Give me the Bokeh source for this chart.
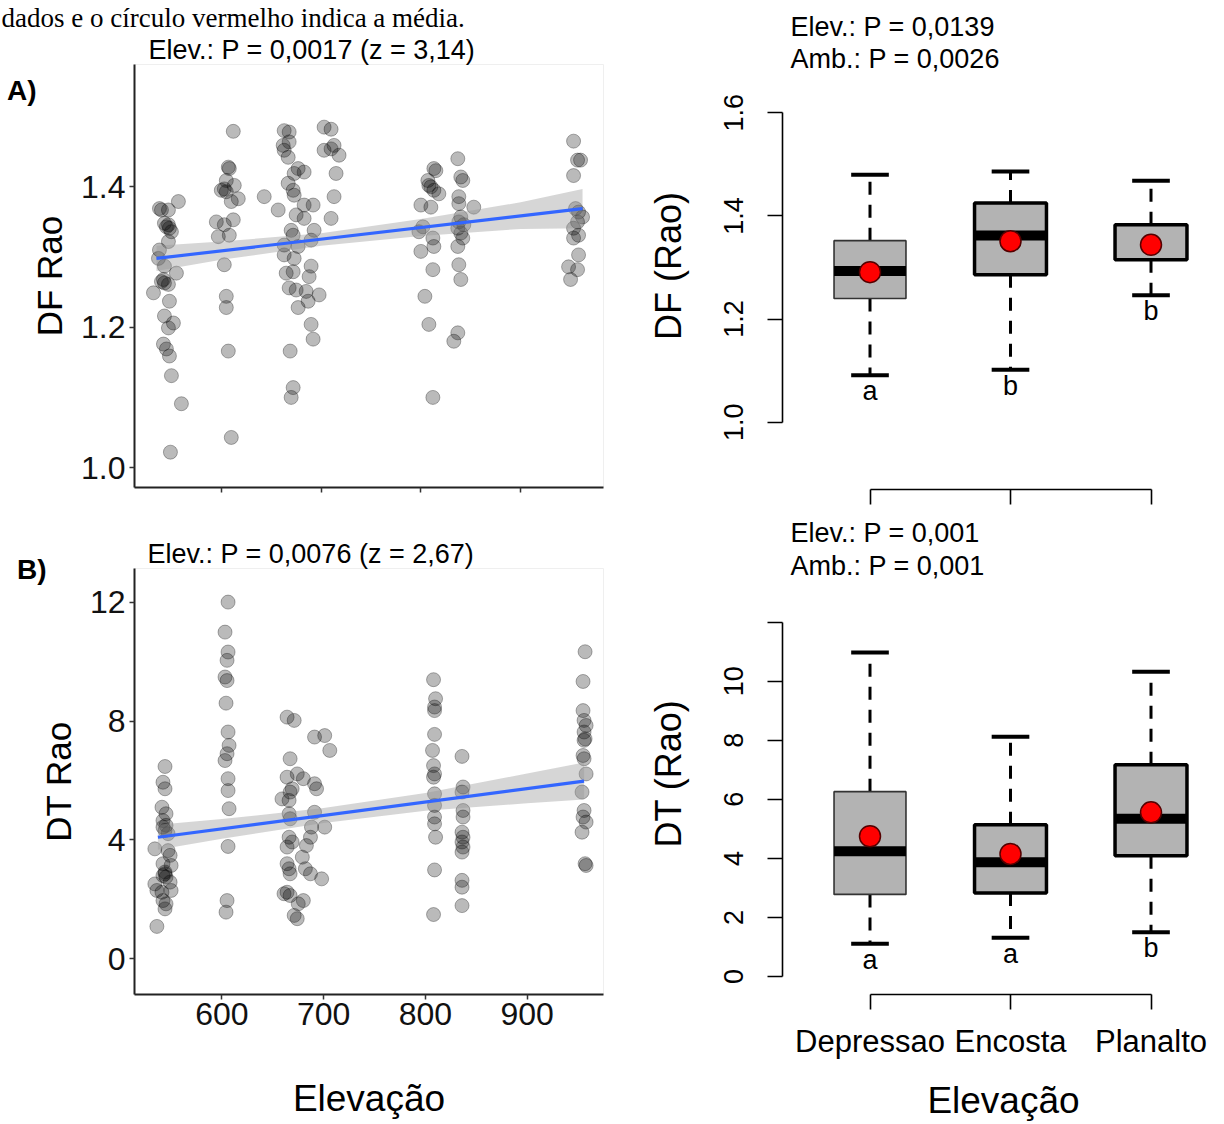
from bokeh.plotting import figure
from bokeh.models import Range1d, FixedTicker, Label, PrintfTickFormatter, Title, LinearAxis
from bokeh.layouts import row, column
from bokeh.embed import file_html
from bokeh.resources import INLINE
from bokeh.core.properties import value

SANS = "Liberation Sans"
NAN = float("nan")

# ---------------- data: panel A (DF Rao vs elevation) ----------------
df_elev = [557, 540, 547, 543, 548, 547, 550, 547, 538, 537, 543, 555, 540, 543, 547, 532, 548, 543, 552, 547,
           542, 545, 548, 550, 560, 549, 545, 542, 538,
           612, 607, 608, 605, 613, 600, 605, 603, 610, 617, 595, 612, 603, 597, 608, 603, 605, 605, 607, 610,
           663, 668, 703, 710, 662, 668, 663, 667, 713, 703, 718, 710, 677, 683, 673, 715, 667, 672, 673, 643,
           657, 683, 692, 713, 710, 675, 683, 670, 672, 693, 690, 663, 677, 663, 673, 690, 688, 665, 672, 668,
           675, 685, 698, 677, 687, 690, 692, 669, 672, 670,
           815, 813, 807, 808, 813, 818, 810, 800, 810, 802, 798, 812, 813, 800, 812, 804, 808, 812,
           837, 840, 842, 838, 838, 853, 840, 838, 843, 837, 840, 842, 837, 838, 840, 837, 833,
           953, 957, 960, 953, 955, 958, 962, 957, 953, 958, 953, 958, 948, 957, 950]
df_rao = [1.379, 1.367, 1.367, 1.348, 1.341, 1.346, 1.336, 1.322, 1.310, 1.298, 1.287, 1.277, 1.265, 1.263, 1.261,
          1.249, 1.237, 1.216, 1.206, 1.199, 1.176, 1.169, 1.159, 1.131, 1.091, 1.022, 1.343, 1.268, 1.369,
          1.479, 1.428, 1.426, 1.409, 1.402, 1.395, 1.393, 1.397, 1.379, 1.383, 1.350, 1.353, 1.346, 1.329, 1.331,
          1.289, 1.244, 1.228, 1.166, 1.043,
          1.480, 1.478, 1.485, 1.482, 1.459, 1.464, 1.452, 1.442, 1.459, 1.452, 1.445, 1.454, 1.426, 1.421, 1.419,
          1.419, 1.405, 1.395, 1.388, 1.386, 1.367, 1.374, 1.374, 1.386, 1.355, 1.360, 1.355, 1.338, 1.331, 1.338,
          1.324, 1.317, 1.315, 1.303, 1.298, 1.287, 1.272, 1.277, 1.279, 1.256, 1.253, 1.251, 1.246, 1.228, 1.237,
          1.204, 1.183, 1.166, 1.114, 1.100,
          1.423, 1.426, 1.409, 1.402, 1.395, 1.390, 1.400, 1.374, 1.371, 1.343, 1.336, 1.327, 1.315, 1.308, 1.282,
          1.244, 1.204, 1.100,
          1.440, 1.414, 1.409, 1.386, 1.376, 1.371, 1.357, 1.350, 1.346, 1.341, 1.334, 1.327, 1.315, 1.289, 1.268,
          1.192, 1.180,
          1.465, 1.438, 1.438, 1.416, 1.369, 1.364, 1.357, 1.350, 1.341, 1.331, 1.327, 1.303, 1.286, 1.282, 1.268]
df_fit_x = [535, 962]
df_fit_y = [1.298, 1.369]
df_band_x = [535, 600, 700, 800, 900, 962]
df_band_lo = [1.280, 1.296, 1.316, 1.330, 1.340, 1.341]
df_band_hi = [1.316, 1.322, 1.334, 1.354, 1.378, 1.397]

# ---------------- data: panel B (DT Rao vs elevation) ----------------
dt_elev = [544, 542, 544, 541, 545, 542, 545, 544, 547, 534, 547, 549, 542, 550, 544, 542, 545, 534, 549, 536,
           541, 550, 542, 545, 544, 536, 544, 542,
           606, 603, 606, 605, 603, 605, 604, 606, 607, 605, 603, 606, 606, 607, 606, 605, 604,
           664, 671, 667, 664, 674, 680, 669, 667, 659, 666, 691, 701, 706, 691, 693, 666, 667, 691, 688, 701,
           666, 669, 664, 683, 687, 679, 664, 666, 667, 682, 687, 698, 664, 667, 661, 680, 675, 671, 674,
           808, 810, 809, 809, 809, 807, 808, 809, 808, 809, 809, 809, 809, 810, 809, 808,
           836, 837, 836, 837, 837, 836, 837, 836, 837, 836, 836, 836, 836,
           957, 955, 955, 956, 958, 956, 957, 956, 955, 956, 958, 954, 956, 955, 958, 954, 957, 958]
dt_rao = [6.47, 5.94, 5.72, 5.10, 4.88, 4.65, 4.49, 4.32, 4.21, 3.70, 3.64, 3.48, 3.20, 3.14, 2.92, 2.80, 2.75,
          2.52, 2.58, 2.30, 2.24, 2.30, 1.96, 1.85, 1.68, 1.09, 2.86, 4.43,
          12.00, 10.99, 10.32, 10.04, 9.48, 9.36, 8.60, 7.63, 7.18, 6.90, 6.67, 6.06, 5.66, 5.05, 3.78, 1.96, 1.57,
          8.13, 8.02, 6.73, 6.11, 6.22, 6.06, 5.72, 5.61, 5.38, 5.33, 7.46, 7.51, 7.01, 5.89, 5.72, 4.88, 4.71,
          4.93, 4.43, 4.43, 4.09, 3.93, 3.76, 3.81, 4.09, 3.42, 3.20, 3.03, 2.86, 3.03, 2.86, 2.69, 2.24, 2.13,
          2.19, 1.96, 1.85, 1.46, 1.35,
          9.39, 8.75, 8.47, 8.35, 7.55, 7.01, 6.50, 6.22, 6.11, 5.55, 5.16, 4.77, 4.54, 4.09, 2.99, 1.49,
          6.81, 5.78, 5.61, 4.99, 4.77, 4.26, 4.09, 3.93, 3.76, 3.59, 2.64, 2.41, 1.79,
          10.33, 9.33, 8.35, 8.02, 7.85, 7.63, 7.40, 7.35, 6.84, 6.73, 6.22, 5.61, 4.99, 4.77, 4.60, 4.26, 3.20, 3.14]
dt_fit_x = [537, 956]
dt_fit_y = [4.09, 5.98]
dt_band_x = [537, 600, 700, 800, 900, 956]
dt_band_lo = [3.67, 4.04, 4.57, 4.98, 5.23, 5.36]
dt_band_hi = [4.51, 4.70, 5.07, 5.58, 6.23, 6.60]

elev_ticks = [600, 700, 800, 900]
df_ticks = [1.0, 1.2, 1.4]
dt_ticks = [0, 4, 8, 12]

# ---------------- data: box plots ----------------
categories = ["Depressao", "Encosta", "Planalto"]
cat_pos = [1, 2, 3]
box_df_lo = [1.091, 1.102, 1.246]
box_df_q1 = [1.240, 1.286, 1.315]
box_df_med = [1.293, 1.362, NAN]      # Planalto median not visible in the picture
box_df_q3 = [1.352, 1.425, 1.383]
box_df_hi = [1.480, 1.486, 1.468]
box_df_mean = [1.291, 1.351, 1.344]
box_df_letters = ["a", "b", "b"]

box_dt_lo = [1.11, 1.31, 1.50]
box_dt_q1 = [2.78, 2.83, 4.09]
box_dt_med = [4.24, 3.87, 5.34]
box_dt_q3 = [6.26, 5.14, 7.17]
box_dt_hi = [10.97, 8.12, 10.32]
box_dt_mean = [4.75, 4.15, 5.56]
box_dt_letters = ["a", "a", "b"]

box_df_ticks = [1.0, 1.2, 1.4, 1.6]
box_dt_ticks = [0, 2, 4, 6, 8, 10, 12]

# texts
title_A = "Elev.: P = 0,0017 (z = 3,14)"
title_B = "Elev.: P = 0,0076 (z = 2,67)"
title_C = ["Elev.: P = 0,0139", "Amb.: P = 0,0026"]
title_D = ["Elev.: P = 0,001", "Amb.: P = 0,001"]
caption = "dados e o círculo vermelho indica a média."
panel_tags = ["A)", "B)"]
tag_pos = [1.537, 13.10]


def style_title(t, text, offset, standoff, font=SANS, size="27px"):
    t.text = text
    t.align = "left"
    t.offset = offset
    t.standoff = standoff
    t.text_font = font
    t.text_font_size = size
    t.text_font_style = "normal"
    t.text_color = "black"


def add_tag(p, tag, pos, standoff):
    ax = LinearAxis(ticker=FixedTicker(ticks=[pos]), major_label_overrides={pos: tag})
    ax.axis_line_color = None
    ax.major_tick_line_color = None
    ax.minor_tick_line_color = None
    ax.major_tick_out = 0
    ax.major_tick_in = 0
    ax.major_label_standoff = standoff
    ax.major_label_orientation = "horizontal"
    ax.major_label_text_font = SANS
    ax.major_label_text_font_style = "bold"
    ax.major_label_text_font_size = "28px"
    ax.major_label_text_color = "black"
    p.add_layout(ax, "left")


def style_left_panel(p, yticks, ylabel, show_xlabels):
    p.grid.visible = False
    p.outline_line_color = "#efefef"
    p.background_fill_color = "white"
    for ax in (p.xaxis[0], p.yaxis[0]):
        ax.axis_line_color = "#222222"
        ax.axis_line_width = 2
        ax.major_tick_line_color = "#333333"
        ax.major_tick_line_width = 1.5
        ax.major_tick_out = 5
        ax.major_tick_in = 0
        ax.minor_tick_out = 0
        ax.minor_tick_in = 0
        ax.major_label_text_font = SANS
        ax.major_label_text_font_size = "32px"
        ax.major_label_text_color = "#111111"
        ax.axis_label_text_font = SANS
        ax.axis_label_text_font_style = "normal"
        ax.axis_label_text_color = "black"
    p.xaxis[0].ticker = FixedTicker(ticks=elev_ticks)
    p.yaxis[0].ticker = FixedTicker(ticks=yticks)
    p.yaxis[0].axis_label = ylabel
    p.yaxis[0].axis_label_text_font_size = "35px"
    p.yaxis[0].axis_label_standoff = 9
    p.yaxis[0].major_label_standoff = 4
    if show_xlabels:
        p.xaxis[0].axis_label = "Elevação"
        p.xaxis[0].axis_label_text_font_size = "37px"
        p.xaxis[0].axis_label_standoff = 50
        p.xaxis[0].major_label_standoff = 3
    else:
        p.xaxis[0].major_label_overrides = {t: "" for t in elev_ticks}


def scatter_panel(p, xs, ys, fx, fy, bx, blo, bhi):
    p.scatter(xs, ys, size=14, fill_color="black", fill_alpha=0.27,
              line_color="black", line_alpha=0.3, line_width=1)
    p.varea(x=bx, y1=blo, y2=bhi, fill_color="#999999", fill_alpha=0.4)
    p.line(fx, fy, line_color="#3366FF", line_width=3.2)


# ---------------- panel A ----------------
pA = figure(width=616, height=508, x_range=Range1d(513, 983), y_range=Range1d(0.9717, 1.5742),
            min_border_left=133, min_border_right=13, min_border_top=62, min_border_bottom=21,
            output_backend="svg", toolbar_location=None)
scatter_panel(pA, df_elev, df_rao, df_fit_x, df_fit_y, df_band_x, df_band_lo, df_band_hi)
style_left_panel(pA, df_ticks, "DF Rao", False)
pA.yaxis[0].formatter = PrintfTickFormatter(format="%.1f")
# outer (top) line: caption of the page; inner line: statistics of the panel
style_title(pA.title, caption, -133, 0, font="Liberation Serif", size="27px")
tA = Title()
style_title(tA, title_A, 14, 0)
pA.add_layout(tA, "above")
add_tag(pA, panel_tags[0], tag_pos[0], -9)

# ---------------- panel B ----------------
pB = figure(width=616, height=616, x_range=Range1d(514, 975.1), y_range=Range1d(-1.20, 13.13),
            min_border_left=134, min_border_right=3, min_border_top=60, min_border_bottom=130,
            output_backend="svg", toolbar_location=None)
scatter_panel(pB, dt_elev, dt_rao, dt_fit_x, dt_fit_y, dt_band_x, dt_band_lo, dt_band_hi)
style_left_panel(pB, dt_ticks, "DT Rao", True)
style_title(pB.title, title_B, 13, 0)
add_tag(pB, panel_tags[1], tag_pos[1], -11)


# ---------------- box plots ----------------
def box_panel(p, lo, q1, med, q3, hi, mean, letters, yticks, ylabel, show_xlabels, hidden_labels):
    half = 0.256
    cap = 0.134
    widths = [1.6, 3.5, 3.5]
    colors = ["#333333", "black", "black"]
    p.segment(x0=cat_pos, x1=cat_pos, y0=q3, y1=hi, line_color="black", line_width=3, line_dash="13 10")
    p.segment(x0=cat_pos, x1=cat_pos, y0=q1, y1=lo, line_color="black", line_width=3, line_dash="13 10")
    p.segment(x0=[c - cap for c in cat_pos], x1=[c + cap for c in cat_pos], y0=hi, y1=hi,
              line_color="black", line_width=4)
    p.segment(x0=[c - cap for c in cat_pos], x1=[c + cap for c in cat_pos], y0=lo, y1=lo,
              line_color="black", line_width=4)
    p.quad(left=[c - half for c in cat_pos], right=[c + half for c in cat_pos], bottom=q1, top=q3,
           fill_color="#B3B3B3", line_color=colors, line_width=widths)
    p.segment(x0=[c - half for c in cat_pos], x1=[c + half for c in cat_pos], y0=med, y1=med,
              line_color="black", line_width=10, line_cap="butt")
    p.scatter(cat_pos, mean, size=21, fill_color="#FF0000", line_color="#550000", line_width=1.5)
    p.text(cat_pos, lo, text=letters, text_align="center", text_baseline="top", y_offset=1,
           text_font=value(SANS), text_font_size="27px", text_color="black")

    p.grid.visible = False
    p.outline_line_color = None
    ya = p.yaxis[0]
    xa = p.xaxis[0]
    for ax in (xa, ya):
        ax.axis_line_color = "black"
        ax.axis_line_width = 1.6
        ax.major_tick_line_color = "black"
        ax.major_tick_line_width = 1.6
        ax.major_tick_out = 15
        ax.major_tick_in = 0
        ax.minor_tick_out = 0
        ax.minor_tick_in = 0
        ax.major_label_text_font = SANS
        ax.major_label_text_color = "black"
        ax.axis_label_text_font = SANS
        ax.axis_label_text_font_style = "normal"
        ax.axis_label_text_color = "black"
    ya.ticker = FixedTicker(ticks=yticks)
    ya.bounds = (yticks[0], yticks[-1])
    ya.major_label_orientation = "vertical"
    ya.major_label_text_font_size = "27px"
    ya.major_label_standoff = 24
    ya.axis_label = ylabel
    ya.axis_label_text_font_size = "36px"
    ya.axis_label_standoff = 33
    if hidden_labels:
        ya.major_label_overrides = {t: "" for t in hidden_labels}
    xa.ticker = FixedTicker(ticks=cat_pos)
    xa.bounds = (cat_pos[0], cat_pos[-1])
    if show_xlabels:
        xa.major_label_overrides = {c: n for c, n in zip(cat_pos, categories)}
        xa.major_label_text_font_size = "31px"
        xa.major_label_standoff = 14
        xa.axis_label = "Elevação"
        xa.axis_label_text_font_size = "37px"
        xa.axis_label_standoff = 18
    else:
        xa.major_label_overrides = {c: "" for c in cat_pos}


pC = figure(width=608, height=508, x_range=Range1d(0.3772, 3.5231), y_range=Range1d(0.8696, 1.7362),
            min_border_left=166, min_border_right=0, min_border_top=42, min_border_bottom=19,
            output_backend="svg", toolbar_location=None)
box_panel(pC, box_df_lo, box_df_q1, box_df_med, box_df_q3, box_df_hi, box_df_mean, box_df_letters,
          box_df_ticks, "DF (Rao)", False, [])
pC.yaxis[0].formatter = PrintfTickFormatter(format="%.1f")
style_title(pC.title, title_C[0], 8, 2)
pC.add_layout(Label(x=8, y=431, x_units="screen", y_units="screen", text=title_C[1], text_font=SANS,
                    text_font_size="27px", text_baseline="middle", text_color="black"))

pD = figure(width=608, height=616, x_range=Range1d(0.3772, 3.5231), y_range=Range1d(-0.609, 14.359),
            min_border_left=166, min_border_right=0, min_border_top=44, min_border_bottom=130,
            output_backend="svg", toolbar_location=None)
box_panel(pD, box_dt_lo, box_dt_q1, box_dt_med, box_dt_q3, box_dt_hi, box_dt_mean, box_dt_letters,
          box_dt_ticks, "DT (Rao)", True, [12])
style_title(pD.title, title_D[0], 8, 9)
pD.add_layout(Label(x=8, y=429, x_units="screen", y_units="screen", text=title_D[1], text_font=SANS,
                    text_font_size="27px", text_baseline="middle", text_color="black"))

layout = row(column(pA, pB), column(pC, pD))
open("out.html", "w").write(file_html(layout, INLINE))
